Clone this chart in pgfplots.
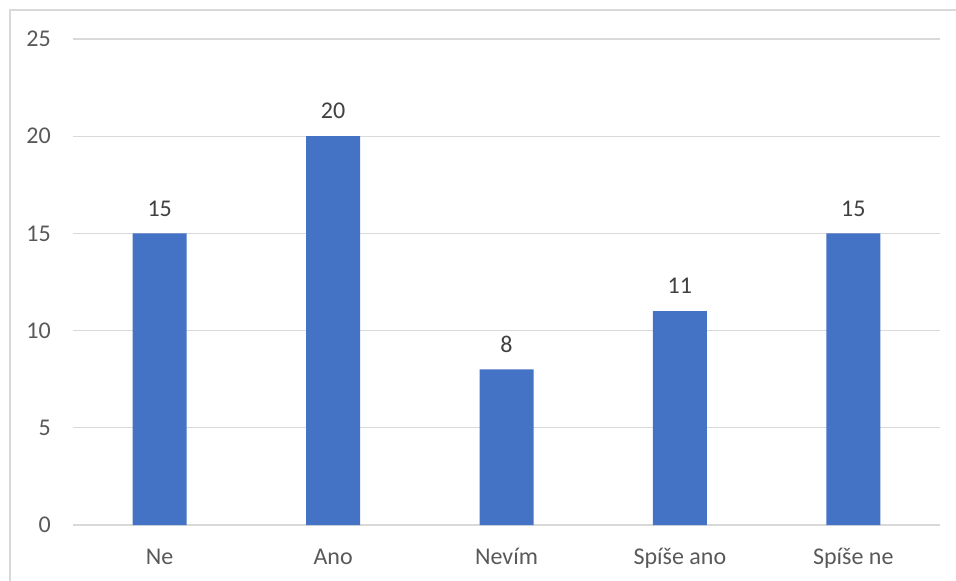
\documentclass[border=0pt]{standalone}
\usepackage{fontspec}
\setmainfont{Carlito}
\usepackage{pgfplots}
\pgfplotsset{compat=1.18}
\definecolor{barblue}{HTML}{4472C4}
\definecolor{gridgray}{HTML}{D9D9D9}
\definecolor{ticktext}{HTML}{595959}
\definecolor{labeltext}{HTML}{404040}
\begin{document}
\begin{tikzpicture}
\path[use as bounding box] (0,0) rectangle (956bp,581bp);
\draw[gridgray, line width=1.5bp] (10bp,0) -- (10bp,571bp) -- (956bp,571bp);
\begin{axis}[
  at={(73bp,56bp)}, anchor=south west,
  scale only axis, width=867bp, height=486bp,
  xmin=-0.5, xmax=4.5, ymin=0, ymax=25,
  ytick={0,5,10,15,20,25},
  xtick={0,1,2,3,4},
  xticklabels={Ne,Ano,Nevím,Spíše ano,Spíše ne},
  axis line style={draw=none},
  major tick length=0pt,
  ymajorgrids,
  grid style={gridgray, line width=1.3bp},
  /pgf/number format/assume math mode=true,
  tick label style={font=\fontsize{24bp}{28bp}\selectfont, text=ticktext},
  yticklabel style={anchor=east, inner sep=0pt, xshift=-22bp},
  xticklabel style={anchor=north, inner sep=0pt, text height=16bp, text depth=5bp, yshift=-23bp},
  ybar, bar width=54bp,
  nodes near coords,
  every node near coord/.append style={font=\fontsize{24bp}{28bp}\selectfont, text=labeltext, inner sep=0pt, anchor=south, yshift=17bp},
  clip=false,
]
\addplot[fill=barblue, draw=none] coordinates {(0,15) (1,20) (2,8) (3,11) (4,15)};
\end{axis}
\end{tikzpicture}
\end{document}
